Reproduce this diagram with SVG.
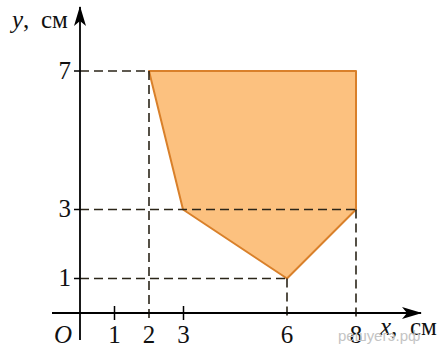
<svg xmlns="http://www.w3.org/2000/svg" width="438" height="347" viewBox="0 0 438 347">
<defs>
<style>
.t{font-family:"Liberation Serif","Times New Roman",serif;font-size:25px;fill:#111}
.i{font-style:italic}
.d{stroke:#2b2518;stroke-width:1.6;stroke-dasharray:9 5;fill:none}
.ax{stroke:#000;stroke-width:1.8;fill:none}
.tk{stroke:#000;stroke-width:1.5}
.wm{font-family:"Liberation Sans",Arial,sans-serif;font-size:15px;fill:#c4c4c4}
</style>
<marker id="arr" viewBox="0 0 20 12" refX="19" refY="6" markerWidth="20" markerHeight="12" markerUnits="userSpaceOnUse" orient="auto">
<path d="M0,0 L20,6 L0,12 L5,6 Z" fill="#000"/>
</marker>
</defs>
<g id="region">
<polygon points="149,71 356,71 356,209.5 287,278.5 183,209.5" fill="#fcc17f" stroke="#d9802a" stroke-width="2" stroke-linejoin="round"/>
</g>
<g id="connectors">
<path class="d" d="M80,71 H149 M149,71 V320"/>
<path class="d" d="M80,209.5 H356 M356,209.5 V320"/>
<path class="d" d="M80,278.5 H287 M287,278.5 V320"/>
</g>
<g id="axes">
<line class="ax" x1="52" y1="313" x2="421" y2="313" marker-end="url(#arr)"/>
<line class="ax" x1="80" y1="340" x2="80" y2="7" marker-end="url(#arr)"/>
<path class="tk" d="M114.5,306 V320 M183.5,306 V320 M74,71 H80 M74,209.5 H80 M74,278.5 H80"/>
</g>
<g id="labels">
<text class="t" x="12" y="28"><tspan class="i">y</tspan>,</text>
<text class="t" x="41" y="28">см</text>
<text class="t" x="380" y="335"><tspan class="i">x</tspan>,</text>
<text class="t" x="410" y="335">см</text>
<text class="t i" x="54" y="343">O</text>
<text class="t" x="71" y="79" text-anchor="end">7</text>
<text class="t" x="71" y="217" text-anchor="end">3</text>
<text class="t" x="71" y="286" text-anchor="end">1</text>
<text class="t" x="114.5" y="343" text-anchor="middle">1</text>
<text class="t" x="149" y="343" text-anchor="middle">2</text>
<text class="t" x="183.5" y="343" text-anchor="middle">3</text>
<text class="t" x="287" y="343" text-anchor="middle">6</text>
<text class="t" x="356" y="343" text-anchor="middle">8</text>
<text class="wm" x="338" y="341">решуегэ.рф</text>
</g>
</svg>
